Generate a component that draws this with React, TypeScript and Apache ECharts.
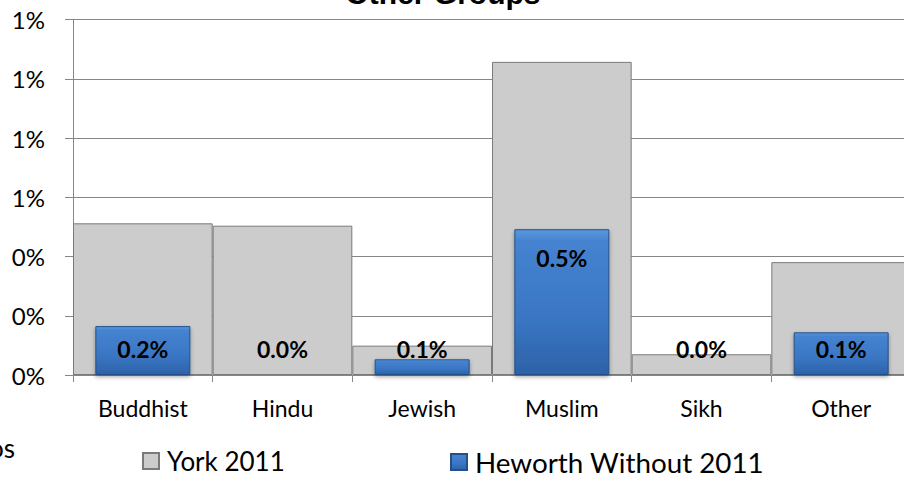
import React, { useEffect, useRef } from "react";
import * as echarts from "echarts";

const categories = ["Buddhist", "Hindu", "Jewish", "Muslim", "Sikh", "Other"];
const york2011 = [0.512, 0.504, 0.099, 1.057, 0.07, 0.381];
const heworth2011 = [0.165, 0, 0.053, 0.492, 0, 0.144];
const yMax = 1.2;
const yInterval = 0.2;
const seriesNames = ["York 2011", "Heworth Without 2011"];
const titleText = "Other Groups";
const clippedText = "os";

const FONT = "Lato";

const blueFill = new echarts.graphic.LinearGradient(0, 0, 0, 1, [
  { offset: 0, color: "#5b97de" },
  { offset: 0.08, color: "#4583d0" },
  { offset: 0.6, color: "#3a76c4" },
  { offset: 1, color: "#2d62a8" },
]);

export default function App() {
  const ref = useRef<HTMLDivElement>(null);
  useEffect(() => {
    if (!ref.current) return;
    const chart = echarts.init(ref.current, null, { renderer: "svg" });
    const labelFont = {
      fontFamily: FONT,
      fontSize: 23,
      fontWeight: "bold" as const,
      color: "#000",
    };
    chart.setOption({
      animation: false,
      backgroundColor: "#ffffff",
      grid: { left: 73, width: 838, top: 19.5, bottom: 110, outerBoundsMode: "none", containLabel: false },
      graphic: [
        {
          type: "text",
          x: 443,
          y: -7,
          style: {
            text: titleText,
            font: "bold 30px 'Liberation Sans', Arial, sans-serif",
            fill: "#000",
            align: "center",
            verticalAlign: "middle",
          },
        },
        {
          type: "text",
          x: 15,
          y: 448,
          style: {
            text: clippedText,
            font: `26px ${FONT}`,
            fill: "#000",
            align: "right",
            verticalAlign: "middle",
          },
        },
      ],
      legend: [
        {
          data: [seriesNames[0]],
          left: 137,
          top: 443,
          itemWidth: 16,
          itemHeight: 16,
          icon: "rect",
          textStyle: { fontFamily: FONT, fontSize: 26, color: "#000", padding: [0, 0, 0, 3] },
        },
        {
          data: [seriesNames[1]],
          left: 445,
          top: 443,
          itemWidth: 16,
          itemHeight: 16,
          icon: "rect",
          textStyle: { fontFamily: FONT, fontSize: 27.8, color: "#000", padding: [0, 0, 0, 3] },
        },
      ],
      xAxis: [
        {
          type: "category",
          data: categories,
          boundaryGap: true,
          axisLine: { show: true, lineStyle: { color: "#868686", width: 1 } },
          axisTick: { show: true, length: 7, lineStyle: { color: "#868686" } },
          axisLabel: { fontFamily: FONT, fontSize: 23, color: "#000", margin: 21 },
          splitLine: { show: false },
        },
        {
          type: "category",
          data: categories,
          show: false,
          position: "bottom",
        },
      ],
      yAxis: {
        type: "value",
        min: 0,
        max: yMax,
        interval: yInterval,
        axisLine: { show: true, lineStyle: { color: "#868686", width: 1 } },
        axisTick: { show: true, length: 8, lineStyle: { color: "#868686" } },
        axisLabel: {
          fontFamily: FONT,
          fontSize: 24,
          color: "#000",
          margin: 28,
          formatter: (v: number) => `${Math.round(v)}%`,
        },
        splitLine: { show: true, lineStyle: { color: "#868686", width: 1 } },
      },
      series: [
        {
          name: seriesNames[0],
          type: "bar",
          xAxisIndex: 0,
          data: york2011,
          barWidth: "100%",
          itemStyle: { color: "#cccccc", borderColor: "#7a7a7a", borderWidth: 1 },
          z: 2,
        },
        {
          name: seriesNames[1],
          type: "bar",
          xAxisIndex: 1,
          barWidth: "68%",
          data: heworth2011.map((v) => ({
            value: v,
            label: {
              show: true,
              position: v > 0.3 ? "insideTop" : "insideBottom",
              distance: v > 0.3 ? 17 : 15,
              formatter: (p: any) => `${Number(p.value).toFixed(1)}%`,
              ...labelFont,
            },
          })),
          itemStyle: {
            color: blueFill,
            borderColor: "#24508a",
            borderWidth: 1,
            shadowColor: "rgba(0,0,0,0.35)",
            shadowBlur: 4,
            shadowOffsetY: 2,
          },
          z: 3,
        },
      ],
    });
    return () => chart.dispose();
  }, []);
  return (
    <div
      ref={ref}
      style={{ position: "absolute", left: 0, top: 0, width: 904, height: 485 }}
    />
  );
}
